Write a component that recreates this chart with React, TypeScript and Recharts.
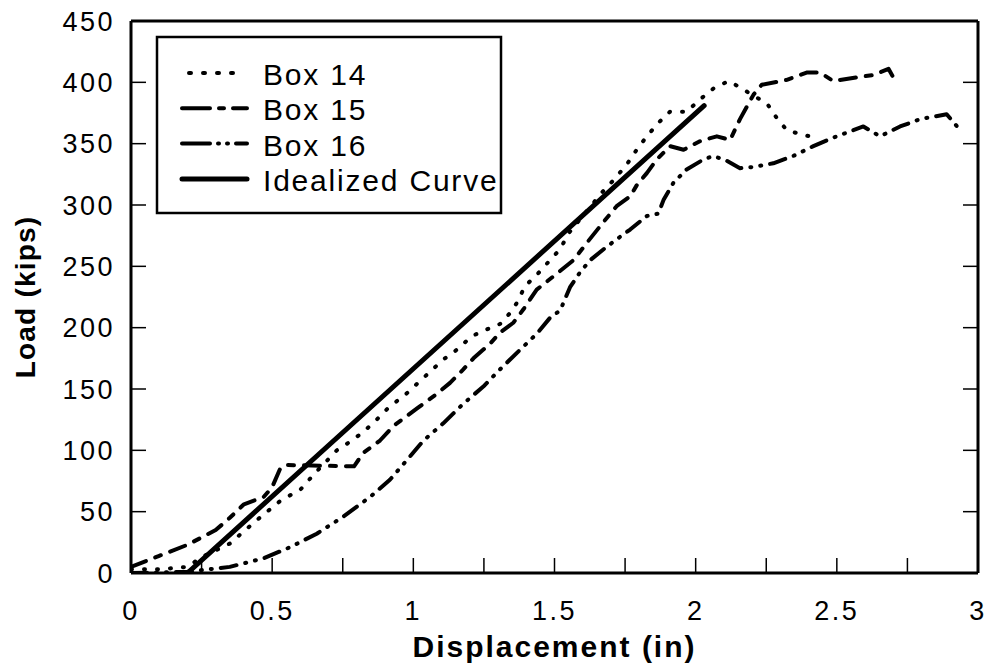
import { LineChart, Line, XAxis, YAxis, Label } from 'recharts';

document.body.style.margin = '0';

const xTicks = [0, 0.25, 0.5, 0.75, 1, 1.25, 1.5, 1.75, 2, 2.25, 2.5, 2.75, 3];
const yTicks = [0, 50, 100, 150, 200, 250, 300, 350, 400, 450];

// displacement (in), load (kips)
const box14 = [
  { x: 0, y: 3 }, { x: 0.1, y: 3 }, { x: 0.2, y: 5 }, { x: 0.25, y: 13 }, { x: 0.35, y: 24 },
  { x: 0.445, y: 43 }, { x: 0.53, y: 59 }, { x: 0.6, y: 68 }, { x: 0.646, y: 80 }, { x: 0.729, y: 100 },
  { x: 0.776, y: 107 }, { x: 0.823, y: 115 }, { x: 0.87, y: 125 }, { x: 0.917, y: 136 }, { x: 0.965, y: 144 },
  { x: 1.012, y: 154 }, { x: 1.106, y: 174 }, { x: 1.154, y: 182 }, { x: 1.207, y: 193 }, { x: 1.254, y: 198 },
  { x: 1.307, y: 203 }, { x: 1.343, y: 212 }, { x: 1.366, y: 220 }, { x: 1.396, y: 234 }, { x: 1.437, y: 243 },
  { x: 1.484, y: 255 }, { x: 1.52, y: 264 }, { x: 1.55, y: 277 }, { x: 1.632, y: 300 }, { x: 1.667, y: 310 },
  { x: 1.708, y: 320 }, { x: 1.756, y: 333 }, { x: 1.791, y: 345 }, { x: 1.827, y: 356 }, { x: 1.868, y: 367 },
  { x: 1.909, y: 376 }, { x: 1.968, y: 376 }, { x: 2.015, y: 386 }, { x: 2.063, y: 395 }, { x: 2.116, y: 401 },
  { x: 2.157, y: 396 }, { x: 2.205, y: 389 }, { x: 2.252, y: 383 }, { x: 2.287, y: 371 }, { x: 2.323, y: 361 },
  { x: 2.382, y: 357 }, { x: 2.43, y: 355 },
];

const box15 = [
  { x: 0, y: 5 }, { x: 0.1, y: 14 }, { x: 0.2, y: 23 }, { x: 0.3, y: 35 }, { x: 0.35, y: 45 },
  { x: 0.4, y: 56 }, { x: 0.47, y: 62 }, { x: 0.5, y: 70 }, { x: 0.53, y: 86 }, { x: 0.55, y: 88 },
  { x: 0.79, y: 87 }, { x: 0.823, y: 98 }, { x: 0.882, y: 108 }, { x: 0.93, y: 120 }, { x: 1.012, y: 134 },
  { x: 1.083, y: 146 }, { x: 1.13, y: 155 }, { x: 1.177, y: 166 }, { x: 1.213, y: 175 }, { x: 1.272, y: 187 },
  { x: 1.307, y: 196 }, { x: 1.354, y: 204 }, { x: 1.39, y: 215 }, { x: 1.437, y: 231 }, { x: 1.508, y: 244 },
  { x: 1.567, y: 255 }, { x: 1.614, y: 269 }, { x: 1.673, y: 286 }, { x: 1.72, y: 299 }, { x: 1.768, y: 307 },
  { x: 1.791, y: 316 }, { x: 1.827, y: 326 }, { x: 1.862, y: 337 }, { x: 1.909, y: 348 }, { x: 1.957, y: 345 },
  { x: 2.015, y: 352 }, { x: 2.075, y: 356 }, { x: 2.122, y: 353 }, { x: 2.157, y: 370 }, { x: 2.181, y: 380 },
  { x: 2.205, y: 390 }, { x: 2.234, y: 398 }, { x: 2.323, y: 402 }, { x: 2.393, y: 408 }, { x: 2.44, y: 408 },
  { x: 2.488, y: 401 }, { x: 2.57, y: 404 }, { x: 2.63, y: 406 }, { x: 2.683, y: 411 }, { x: 2.7, y: 404 },
];

const box16 = [
  { x: 0, y: 0 }, { x: 0.2, y: 1 }, { x: 0.35, y: 5 }, { x: 0.47, y: 12 }, { x: 0.563, y: 21 },
  { x: 0.658, y: 32 }, { x: 0.752, y: 46 }, { x: 0.847, y: 62 }, { x: 0.917, y: 76 }, { x: 0.977, y: 92 },
  { x: 1.036, y: 108 }, { x: 1.106, y: 122 }, { x: 1.177, y: 138 }, { x: 1.248, y: 152 }, { x: 1.307, y: 166 },
  { x: 1.378, y: 182 }, { x: 1.437, y: 195 }, { x: 1.484, y: 208 }, { x: 1.52, y: 214 }, { x: 1.555, y: 233 },
  { x: 1.59, y: 245 }, { x: 1.626, y: 255 }, { x: 1.685, y: 266 }, { x: 1.732, y: 274 }, { x: 1.768, y: 280 },
  { x: 1.827, y: 291 }, { x: 1.868, y: 293 }, { x: 1.886, y: 304 }, { x: 1.921, y: 318 }, { x: 1.968, y: 329 },
  { x: 2.027, y: 337 }, { x: 2.063, y: 340 }, { x: 2.11, y: 336 }, { x: 2.157, y: 330 }, { x: 2.205, y: 331 },
  { x: 2.275, y: 334 }, { x: 2.346, y: 340 }, { x: 2.417, y: 348 }, { x: 2.488, y: 355 }, { x: 2.547, y: 360 },
  { x: 2.594, y: 364 }, { x: 2.63, y: 359 }, { x: 2.653, y: 356 }, { x: 2.724, y: 364 }, { x: 2.795, y: 370 },
  { x: 2.889, y: 374 }, { x: 2.937, y: 361 },
];

const idealized = [{ x: 0.2, y: 0 }, { x: 2.03, y: 381 }];

const series = [
  { name: 'Box 14', data: box14, dash: '1 12', legendDash: '2 12', width: 4 },
  { name: 'Box 15', data: box15, dash: '16 10 6 10', legendDash: '28 9 5 9', width: 4 },
  { name: 'Box 16', data: box16, dash: '16 9 1 9 1 9', legendDash: '28 8 1 8 1 8', width: 4 },
  { name: 'Idealized Curve', data: idealized, dash: undefined, legendDash: undefined, width: 5 },
];

const FONT = '"Liberation Sans", Arial, Helvetica, sans-serif';
const tickStyle = { fontSize: 27, fill: '#000', fontFamily: FONT };
const axisLine = { stroke: '#000', strokeWidth: 3 };
const tickLine = { stroke: '#000', strokeWidth: 1.5 };

const xFmt = (v: number) => (Math.round(v * 4) % 2 === 0 ? String(v) : '');
const blank = () => '';

function ChartLegend() {
  return (
    <svg width={348} height={180} style={{ position: 'absolute', left: 155, top: 35 }}>
      <rect x={2} y={2} width={344} height={176} fill="#fff" stroke="#000" strokeWidth={2.5} />
      {series.map((s, i) => {
        const cy = 38 + i * 35.3;
        const dotted = s.name === 'Box 14';
        return (
          <g key={s.name}>
            <line
              x1={dotted ? 34 : 27}
              x2={dotted ? 86 : 92}
              y1={cy}
              y2={cy}
              stroke="#000"
              strokeWidth={s.width}
              strokeDasharray={s.legendDash}
              strokeLinecap="round"
            />
            <text
              x={108}
              y={cy + 12}
              fontSize={30}
              fontFamily={FONT}
              style={{ letterSpacing: '1.8px' }}
              fill="#000"
            >
              {s.name}
            </text>
          </g>
        );
      })}
    </svg>
  );
}

export default function App() {
  return (
    <div style={{ position: 'relative', width: 992, height: 665, letterSpacing: '2.5px', fontFamily: FONT }}>
      <LineChart width={992} height={665} margin={{ top: 0, right: 0, bottom: 0, left: 0 }}>
        <XAxis
          xAxisId="b"
          dataKey="x"
          type="number"
          domain={[0, 3]}
          ticks={xTicks}
          interval={0}
          height={92}
          tickSize={-15}
          tickMargin={43}
          tickFormatter={xFmt}
          tick={tickStyle}
          axisLine={axisLine}
          tickLine={tickLine}
          allowDataOverflow
        >
          <Label
            value="Displacement (in)"
            position="insideBottom"
            offset={8}
            style={{ fontSize: 30, fontWeight: 700, fill: '#000', fontFamily: FONT, letterSpacing: '2px' }}
          />
        </XAxis>
        <XAxis
          xAxisId="t"
          orientation="top"
          type="number"
          domain={[0, 3]}
          ticks={xTicks}
          interval={0}
          height={21}
          tickSize={-15}
          tickFormatter={blank}
          axisLine={axisLine}
          tickLine={tickLine}
          allowDataOverflow
        />
        <YAxis
          yAxisId="l"
          type="number"
          domain={[0, 450]}
          ticks={yTicks}
          interval={0}
          width={131}
          tickSize={-15}
          tickMargin={31}
          tick={tickStyle}
          axisLine={axisLine}
          tickLine={tickLine}
          allowDataOverflow
        >
          <Label
            content={(props: any) => {
              const vb = props.viewBox || { x: 0, y: 21, width: 131, height: 552 };
              const cy = vb.y + vb.height / 2;
              return (
                <text
                  x={35}
                  y={cy}
                  transform={`rotate(-90, 35, ${cy})`}
                  textAnchor="middle"
                  fontSize={28}
                  fontWeight={700}
                  fontFamily={FONT}
                  fill="#000"
                  style={{ letterSpacing: '1.2px' }}
                >
                  Load (kips)
                </text>
              );
            }}
          />
        </YAxis>
        <YAxis
          yAxisId="r"
          orientation="right"
          type="number"
          domain={[0, 450]}
          ticks={yTicks}
          interval={0}
          width={14}
          tickSize={-15}
          tickFormatter={blank}
          axisLine={axisLine}
          tickLine={tickLine}
          allowDataOverflow
        />
        {series.map((s) => (
          <Line
            key={s.name}
            xAxisId="b"
            yAxisId="l"
            data={s.data}
            dataKey="y"
            name={s.name}
            type="linear"
            stroke="#000"
            strokeWidth={s.width}
            strokeDasharray={s.dash}
            strokeLinecap="round"
            strokeLinejoin="round"
            dot={false}
            activeDot={false}
            isAnimationActive={false}
          />
        ))}
      </LineChart>
      <ChartLegend />
    </div>
  );
}
